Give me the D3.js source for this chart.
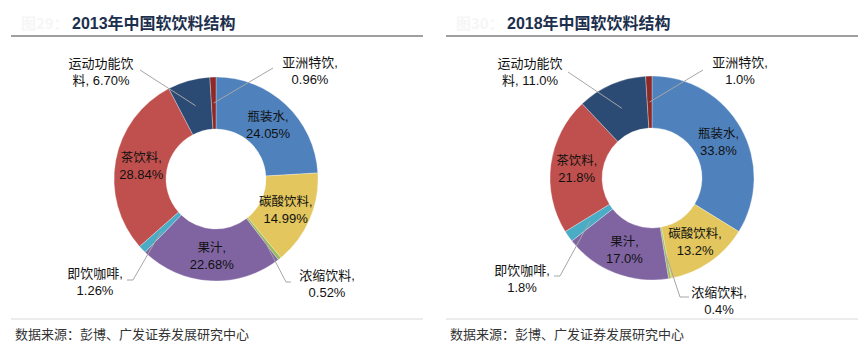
<!DOCTYPE html>
<html><head><meta charset="utf-8">
<script src="https://cdn.jsdelivr.net/npm/d3@7"></script>
<style>
html,body{margin:0;padding:0;background:#fff;}
svg{display:block;}
</style></head>
<body>
<svg id="c" width="864" height="354"></svg>
<script>
// ---- data ----
const categories = ["瓶装水","碳酸饮料","浓缩饮料","果汁","即饮咖啡","茶饮料","运动功能饮料","亚洲特饮"];
const values2013 = [24.05,14.99,0.52,22.68,1.26,28.84,6.70,0.96];
const values2018 = [33.8,13.2,0.4,17.0,1.8,21.8,11.0,1.0];
const titles = ["2013年中国软饮料结构","2018年中国软饮料结构"];
const figNums = ["图29：","图30："];
const sourceText = "数据来源：彭博、广发证券发展研究中心";
const colors = ["#4f81bd","#e3c65e","#9bbb59","#8064a2","#4bacc6","#c0504d","#2c4b74","#8c2a27"];

// ---- layout (positions of labels, not data) ----
const insideIdx = [0,1,3,5];
const panels = [
  {values:values2013, fmt:d3.format(".2f"), cx:216, cy:179, rx:[11,423], title:titles[0], fig:figNums[0],
   outside:{
     6:{lines:["运动功能饮","料, {v}"], tx:-115, ty:-116, pts:[[-76,-109]]},
     7:{lines:["亚洲特饮,","{v}"], tx:94, ty:-117, pts:[[57,-111]]},
     4:{lines:["即饮咖啡,","{v}"], tx:-121, ty:94, pts:[[-83,101],[-89,101]]},
     2:{lines:["浓缩饮料,","{v}"], tx:111, ty:96, pts:[[70,103],[75,103]]}
   }},
  {values:values2018, fmt:d3.format(".1f"), cx:652, cy:178, rx:[446,858], title:titles[1], fig:figNums[1],
   outside:{
     6:{lines:["运动功能饮","料, {v}"], tx:-122, ty:-115, pts:[[-84,-106]]},
     7:{lines:["亚洲特饮,","{v}"], tx:88, ty:-116, pts:[[51,-108]]},
     4:{lines:["即饮咖啡,","{v}"], tx:-130, ty:92, pts:[[-92,98],[-98,98]]},
     2:{lines:["浓缩饮料,","{v}"], tx:67, ty:114, pts:[[28,119],[37,119]]}
   }}
];

const svg = d3.select("#c");
const FONT = "'Liberation Sans', Arial, 'Noto Sans CJK SC', sans-serif";
const CJK = "'Noto Sans CJK SC', sans-serif";
const R = 102, r = 50;
const pie = d3.pie().sort(null).value(d => d);
const arc = d3.arc().innerRadius(r).outerRadius(R);
const midArc = d3.arc().innerRadius((R+r)/2).outerRadius((R+r)/2);

panels.forEach(p => {
  const g = svg.append("g");
  g.append("text").attr("x", p.rx[0] + 10).attr("y", 29).attr("fill", "#f6f6f6")
    .style("font-family", CJK).style("font-size", "15px").style("font-weight", "bold").text(p.fig);
  g.append("text").attr("x", p.rx[0] + 61).attr("y", 29).attr("fill", "#1c2f4d")
    .style("font-family", FONT).style("font-size", "16px").style("font-weight", "bold").text(p.title);
  g.append("line").attr("x1", p.rx[0]).attr("x2", p.rx[1]).attr("y1", 36).attr("y2", 36)
    .attr("stroke", "#7f7f7f").attr("stroke-width", 1.6);
  g.append("line").attr("x1", p.rx[0]).attr("x2", p.rx[1]).attr("y1", 319).attr("y2", 319)
    .attr("stroke", "#d9d9d9").attr("stroke-width", 1.2);
  g.append("text").attr("x", p.rx[0] + 4).attr("y", 339).attr("fill", "#333")
    .style("font-family", CJK).style("font-size", "13px").text(sourceText);

  const arcs = pie(p.values);
  const cg = g.append("g").attr("transform", `translate(${p.cx},${p.cy})`);
  cg.selectAll("path.slice").data(arcs).join("path").attr("class", "slice")
    .attr("d", arc).attr("fill", (d, i) => colors[i]).attr("stroke", "#fff").attr("stroke-width", 0.3);

  insideIdx.forEach(i => {
    const [x, y] = midArc.centroid(arcs[i]);
    const t = cg.append("text").attr("text-anchor", "middle").attr("fill", "#111")
      .style("font-family", FONT).style("font-size", "13px");
    t.append("tspan").attr("x", x).attr("y", y - 3).style("font-size", "12.5px").text(categories[i] + ",");
    t.append("tspan").attr("x", x).attr("y", y + 14).text(p.fmt(p.values[i]) + "%");
  });

  Object.keys(p.outside).forEach(k => {
    const i = +k, o = p.outside[k];
    const c = midArc.centroid(arcs[i]);
    const pts = [c].concat(o.pts);
    cg.append("path").attr("d", d3.line()(pts)).attr("fill", "none")
      .attr("stroke", "#a6a6a6").attr("stroke-width", 1);
    const t = cg.append("text").attr("text-anchor", "middle").attr("fill", "#111")
      .style("font-family", FONT).style("font-size", "13px");
    o.lines.forEach((ln, j) => {
      t.append("tspan").attr("x", o.tx).attr("y", o.ty + 5 + j * 17)
        .text(ln.replace("{v}", p.fmt(p.values[i]) + "%"));
    });
  });
});
</script>
</body></html>
